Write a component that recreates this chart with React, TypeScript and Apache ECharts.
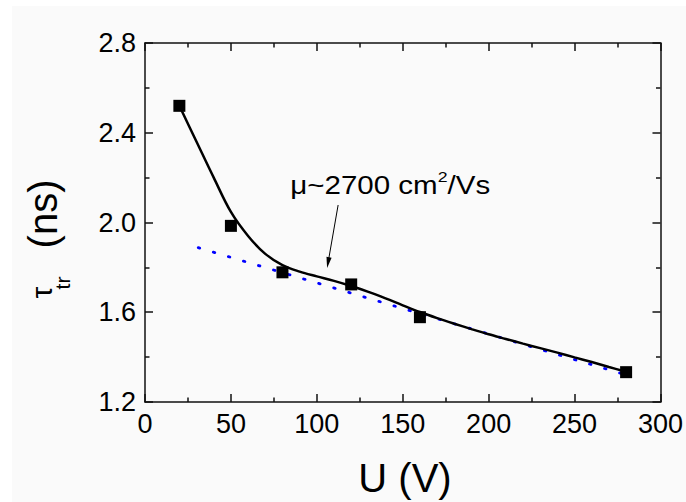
import React, { useEffect, useRef } from "react";
import * as echarts from "echarts";

// Measured points (U in V, transit time in ns)
const measuredU = [20, 50, 80, 120, 160, 280];
const measuredTau = [2.52, 1.985, 1.778, 1.724, 1.578, 1.333];

// Smooth guide curve through the data (read every 10 V)
const curveU = [20, 30, 40, 50, 60, 70, 80, 90, 100, 110, 120, 130, 140, 150, 160, 170, 180, 190, 200, 210, 220, 230, 240, 250, 260, 270, 280];
const curveTau = [2.52, 2.36, 2.2, 2.047, 1.94, 1.86, 1.81, 1.781, 1.76, 1.74, 1.717, 1.691, 1.662, 1.631, 1.601, 1.574, 1.549, 1.525, 1.502, 1.481, 1.46, 1.44, 1.42, 1.399, 1.378, 1.356, 1.335];

// Linear fit (dotted)
const fitU = [31, 279];
const fitTau = [1.888, 1.323];

const xTicks = { min: 0, max: 300, interval: 50 };
const yTicks = { min: 1.2, max: 2.8, interval: 0.4 };

const annotationText = "μ~2700 cm";
const annotationSup = "2";
const annotationTail = "/Vs";
// annotation anchors in data coordinates
const labelAnchor = [84.6, 2.167];
const arrowStart = [112.4, 2.078];
const arrowTip = [106, 1.797];

const FONT = "'Liberation Sans', Arial, sans-serif";
const AXIS_COLOR = "#111";

export default function App() {
  const ref = useRef<HTMLDivElement>(null);

  useEffect(() => {
    document.body.style.margin = "0";
    document.body.style.background = "#ffffff";
    if (!ref.current) return;
    const chart = echarts.init(ref.current, undefined, { renderer: "svg" });

    const axisCommon = {
      axisLine: { show: true, onZero: false, lineStyle: { color: AXIS_COLOR, width: 1.5 } },
      axisTick: { show: true, inside: true, length: 8, lineStyle: { color: AXIS_COLOR, width: 1.5 } },
      minorTick: { show: true, splitNumber: 2, length: 4.5, lineStyle: { color: AXIS_COLOR, width: 1.5 } },
      splitLine: { show: false },
    };

    chart.setOption({
      animation: false,
      backgroundColor: "transparent",
      grid: { left: 145, top: 43, width: 518, height: 359, containLabel: false },
      xAxis: [
        {
          type: "value",
          position: "bottom",
          ...xTicks,
          ...axisCommon,
          axisLabel: { fontSize: 27, color: "#000", fontFamily: FONT, margin: 8 },
        },
        {
          type: "value",
          position: "top",
          ...xTicks,
          ...axisCommon,
          axisLabel: { show: false },
        },
      ],
      yAxis: [
        {
          type: "value",
          position: "left",
          ...yTicks,
          ...axisCommon,
          axisLabel: {
            fontSize: 27,
            color: "#000",
            fontFamily: FONT,
            margin: 9,
            formatter: (v: number) => v.toFixed(1),
          },
        },
        {
          type: "value",
          position: "right",
          ...yTicks,
          ...axisCommon,
          axisLabel: { show: false },
        },
      ],
      series: [
        {
          type: "line",
          data: fitU.map((u, i) => [u, fitTau[i]]),
          showSymbol: false,
          symbol: "none",
          lineStyle: { color: "#0000ff", width: 2.8, type: [1.5, 14.2], cap: "round" },
          z: 2,
        },
        {
          type: "line",
          data: curveU.map((u, i) => [u, curveTau[i]]),
          smooth: 0.35,
          showSymbol: false,
          symbol: "none",
          lineStyle: { color: "#000", width: 2.5 },
          z: 3,
        },
        {
          type: "scatter",
          data: measuredU.map((u, i) => [u, measuredTau[i]]),
          symbol: "rect",
          symbolSize: 12,
          itemStyle: { color: "#000", opacity: 1 },
          z: 4,
        },
      ],
    });

    const toPx = (d: number[]) => chart.convertToPixel({ xAxisIndex: 0, yAxisIndex: 0 }, d) as number[];
    const a = toPx(labelAnchor);
    const s = toPx(arrowStart);
    const t = toPx(arrowTip);
    const dx = t[0] - s[0];
    const dy = t[1] - s[1];
    const len = Math.sqrt(dx * dx + dy * dy);
    const ux = dx / len;
    const uy = dy / len;
    const nx = -uy;
    const ny = ux;
    const headL = 11;
    const headW = 2.6;
    const base = [t[0] - ux * headL, t[1] - uy * headL];

    chart.setOption({
      graphic: [
        {
          type: "line",
          shape: { x1: s[0], y1: s[1], x2: base[0] + ux * 2, y2: base[1] + uy * 2 },
          style: { stroke: "#000", lineWidth: 1 },
          z: 10,
        },
        {
          type: "polygon",
          shape: {
            points: [
              [t[0], t[1]],
              [base[0] + nx * headW, base[1] + ny * headW],
              [base[0] - nx * headW, base[1] - ny * headW],
            ],
          },
          style: { fill: "#000" },
          z: 10,
        },
        {
          type: "text",
          x: a[0],
          y: a[1],
          scaleX: 1.18,
          z: 10,
          style: {
            text: `{m|${annotationText}}{s|${annotationSup}}{m|${annotationTail}}`,
            align: "left",
            verticalAlign: "middle",
            textAlign: "left",
            textVerticalAlign: "middle",
            rich: {
              m: { fontSize: 25, fontFamily: FONT, fill: "#000", lineHeight: 32 },
              s: { fontSize: 15, fontFamily: FONT, fill: "#000", lineHeight: 15, verticalAlign: "top" },
            },
          },
        },
        // x axis title
        {
          type: "text",
          x: 405,
          y: 478,
          z: 10,
          style: {
            text: "U (V)",
            fontSize: 40,
            fontFamily: FONT,
            fill: "#000",
            align: "center",
            verticalAlign: "middle",
            textAlign: "center",
            textVerticalAlign: "middle",
          },
        },
        // y axis title pieces (rotated)
        {
          type: "text",
          x: 43,
          y: 214,
          rotation: Math.PI / 2,
          z: 10,
          style: {
            text: "(ns)",
            fontSize: 40,
            fontFamily: FONT,
            fill: "#000",
            align: "center",
            verticalAlign: "middle",
            textAlign: "center",
            textVerticalAlign: "middle",
          },
        },
        {
          type: "text",
          x: 41.5,
          y: 292.5,
          rotation: Math.PI / 2,
          z: 10,
          style: {
            text: "τ",
            fontSize: 30,
            fontFamily: FONT,
            fill: "#000",
            align: "center",
            verticalAlign: "middle",
            textAlign: "center",
            textVerticalAlign: "middle",
          },
        },
        {
          type: "text",
          x: 62,
          y: 283,
          rotation: Math.PI / 2,
          z: 10,
          style: {
            text: "tr",
            fontSize: 21,
            fontFamily: FONT,
            fill: "#000",
            align: "center",
            verticalAlign: "middle",
            textAlign: "center",
            textVerticalAlign: "middle",
          },
        },
      ],
    });

    return () => chart.dispose();
  }, []);

  return (
    <div style={{ position: "relative", width: 686, height: 502, background: "#ffffff", overflow: "hidden" }}>
      <div style={{ position: "absolute", left: 12, top: 6, right: 0, bottom: 0, background: "#fafafa" }} />
      <div ref={ref} style={{ position: "absolute", left: 0, top: 0, width: 686, height: 502 }} />
    </div>
  );
}
